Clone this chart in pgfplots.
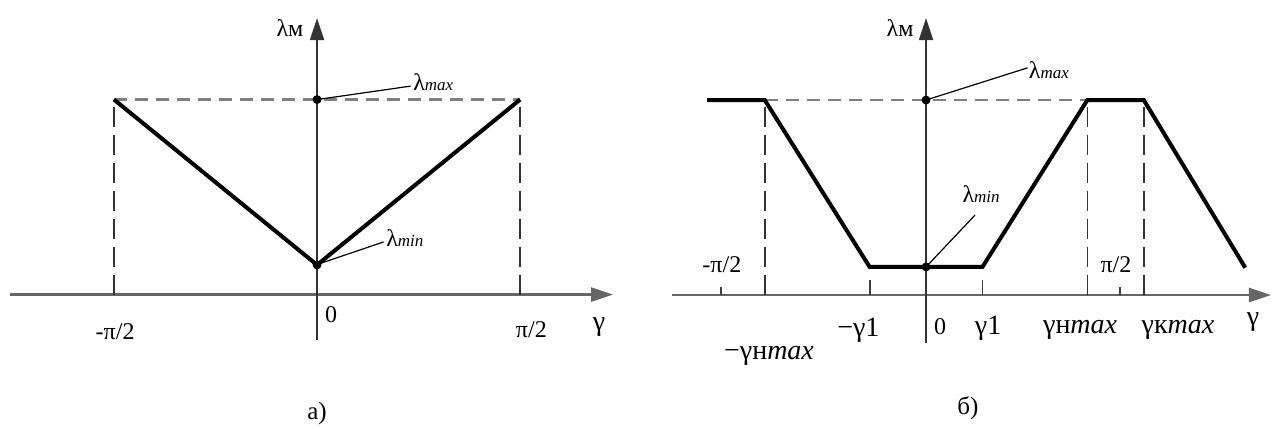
\documentclass[border=0pt]{standalone}
\usepackage{fontspec}
\setmainfont{Liberation Serif}
\usepackage{pgfplots}
\pgfplotsset{compat=1.18}
\usetikzlibrary{arrows.meta}

% small italic index written on the baseline, as in the labels
\newcommand\idx[1]{{\fontsize{8.5}{9}\selectfont\itshape #1}}
\newcommand\tk{\fontsize{11}{13}\selectfont}
\newcommand\lk{\fontsize{12}{14}\selectfont}
\newcommand\gk{\fontsize{14}{16}\selectfont}

\tikzset{lead/.style={line width=0.6pt, black}}

\pgfplotsset{
  schema/.style={
    axis lines=middle,
    x=1.128pt, y=97.5pt,
    xtick=\empty, ytick=\empty,
    clip=false,
    anchor=south west,
    x axis line style={line width=1.3pt, black!60, -{Triangle[length=11pt,width=7pt]}},
    y axis line style={line width=0.9pt, black!80, -{Triangle[length=11pt,width=7pt]}},
  },
  curve/.style={line width=2pt, black, line join=miter, no marks},
  hdash/.style={line width=1.1pt, black!50, dash pattern=on 6.5pt off 4pt, no marks},
  vdash/.style={line width=0.8pt, black!80, dash pattern=on 10pt off 4pt, no marks},
  smalltick/.style={line width=0.9pt, black!75, no marks},
  dot/.style={only marks, mark=*, mark size=2pt, black},
}

\begin{document}
\begin{tikzpicture}
\useasboundingbox (0,0) rectangle (638.5pt,214pt);

% ---------- a) symmetric V characteristic ----------
\begin{axis}[schema, at={(5pt,44pt)},
  xmin=-136.1, xmax=131.2, ymin=-0.233, ymax=1.418]
  \addplot[hdash] coordinates {(-90,1) (90,1)};
  \addplot[vdash] coordinates {(-90,0) (-90,1)};
  \addplot[vdash] coordinates {(90,0) (90,1)};
  \addplot[curve] coordinates {(-90,1) (0,0.152) (90,1)};
  \addplot[dot] coordinates {(0,1) (0,0.152)};

  \draw[lead] (axis cs:0,1) -- (axis cs:41.5,1.069);
  \draw[lead] (axis cs:1.5,0.16) -- (axis cs:29.5,0.27);
  \node[anchor=west, inner sep=0pt] at (axis cs:42.5,1.09) {\lk λ\idx{max}};
  \node[anchor=west, inner sep=0pt] at (axis cs:30.5,0.29) {\lk λ\idx{min}};
  \node at (axis cs:-12,1.367) {\lk λм};
  \node at (axis cs:6.2,-0.105) {\lk 0};
  \node at (axis cs:-89.5,-0.19) {\lk -π/2};
  \node at (axis cs:95,-0.18) {\lk π/2};
  \node at (axis cs:125,-0.166) {\gk γ};
  \node at (axis cs:0,-0.608) {\fontsize{12.5}{15}\selectfont а)};
\end{axis}

% ---------- б) characteristic with limited sectors ----------
\begin{axis}[schema, at={(336pt,42.5pt)},
  xmin=-112.6, xmax=152.9, ymin=-0.246, ymax=1.42]
  \addplot[hdash] coordinates {(-71.5,1) (71.5,1)};
  \addplot[vdash] coordinates {(-71.5,0) (-71.5,1)};
  \addplot[vdash] coordinates {(71.5,0) (71.5,1)};
  \addplot[vdash] coordinates {(96.5,0) (96.5,1)};
  \addplot[smalltick] coordinates {(-25,0) (-25,0.077)};
  \addplot[smalltick] coordinates {(25,0) (25,0.077)};
  \addplot[smalltick] coordinates {(-91,0) (-91,0.04)};
  \addplot[smalltick] coordinates {(86,0) (86,0.04)};
  \addplot[curve] coordinates {(-97,1) (-71.5,1) (-25,0.144) (25,0.144)
                               (71.5,1) (96.5,1) (141.5,0.14)};
  \addplot[dot] coordinates {(0,1) (0,0.144)};

  \draw[lead] (axis cs:0,1) -- (axis cs:45,1.165);
  \draw[lead] (axis cs:0,0.144) -- (axis cs:21.7,0.41);
  \node[anchor=west, inner sep=0pt] at (axis cs:45.4,1.154) {\lk λ\idx{max}};
  \node at (axis cs:24.4,0.52) {\lk λ\idx{min}};
  \node at (axis cs:-11.5,1.37) {\lk λм};
  \node at (axis cs:-90.5,0.154) {\lk -π/2};
  \node at (axis cs:84.2,0.154) {\lk π/2};
  \node at (axis cs:6.2,-0.164) {\lk 0};
  \node at (axis cs:-30,-0.18) {\gk −γ1};
  \node at (axis cs:27.5,-0.17) {\gk γ1};
  \node at (axis cs:68.3,-0.18) {\gk γн\textit{max}};
  \node at (axis cs:111.7,-0.18) {\gk γк\textit{max}};
  \node at (axis cs:145,-0.14) {\gk γ};
  \node at (axis cs:-69.6,-0.31) {\gk −γн\textit{max}};
  \node at (axis cs:18.6,-0.58) {\fontsize{12.5}{15}\selectfont б)};
\end{axis}
\end{tikzpicture}
\end{document}
